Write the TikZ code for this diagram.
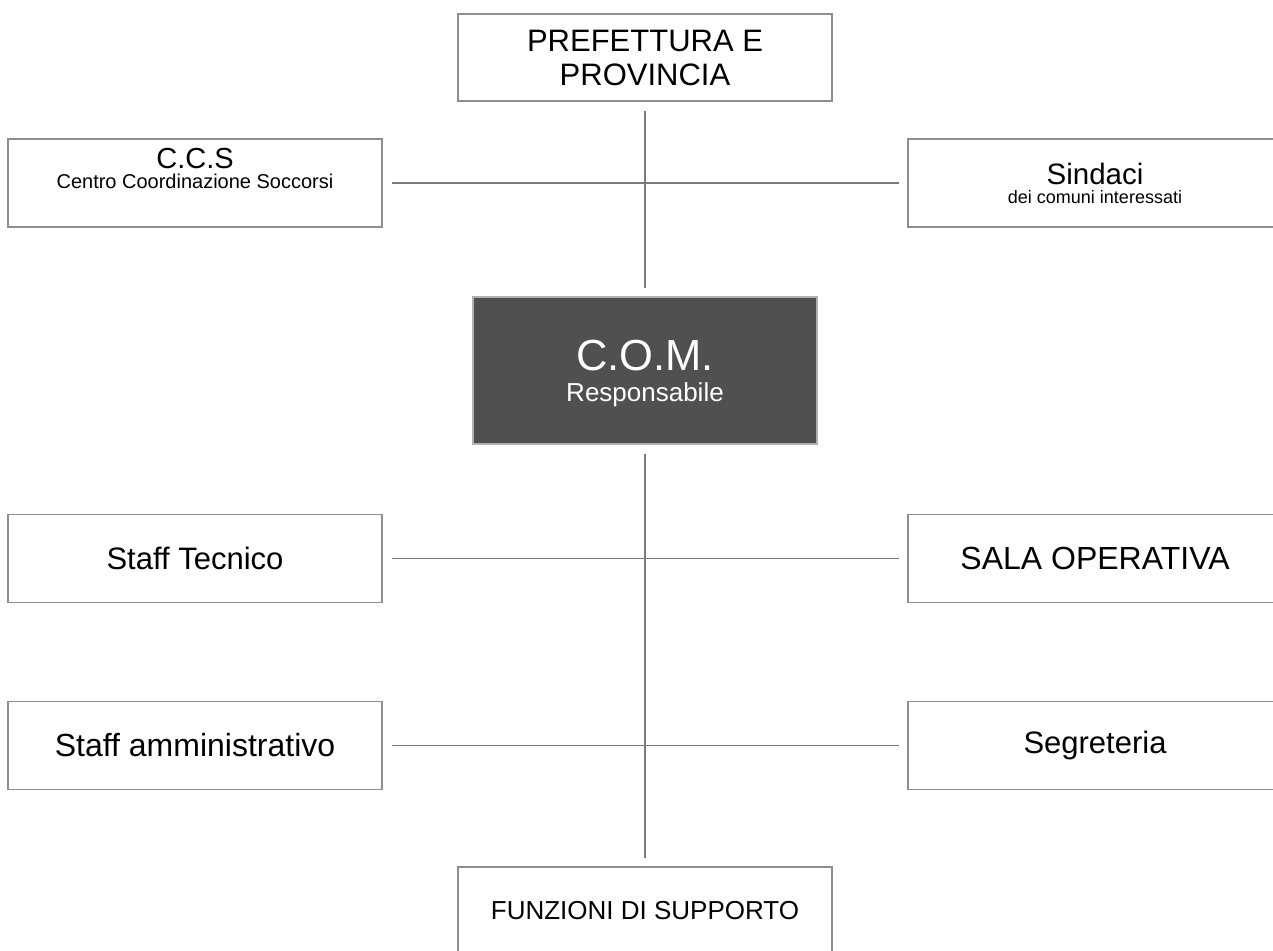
\documentclass[tikz,border=0pt]{standalone}
\usepackage{fontspec}
\setmainfont{Liberation Sans}
\definecolor{boxgray}{HTML}{8E8E8E}
\definecolor{linegray}{HTML}{7A7A7A}
\definecolor{comgray}{HTML}{505050}
\definecolor{comborder}{HTML}{B0B0B0}
\begin{document}
\begin{tikzpicture}[x=1pt,y=-1pt,
  box/.style={draw=boxgray, line width=1.2pt, minimum width=374pt, minimum height=88pt,
    inner sep=0pt, align=center, text=black, fill=white},
  conn/.style={draw=linegray, line width=1.2pt, shorten <=9pt, shorten >=8pt}]
\useasboundingbox (0,0) rectangle (1273,950);
\clip (0,0) rectangle (1273,950);
\fill[white] (0,0) rectangle (1273,950);

\node[box, minimum height=87pt, font=\fontsize{31}{34}\selectfont] (pref) at (645,57.5) {PREFETTURA E\\PROVINCIA};

\node[box] (ccs) at (195,183) {};
\node[font=\fontsize{20}{20}\selectfont, align=center, inner sep=0pt] (ccst) at (195,168) {{\fontsize{29}{29}\selectfont C.C.S}\\Centro Coordinazione Soccorsi};

\node[box, font=\fontsize{18}{19}\selectfont] (sind) at (1095,183) {{\fontsize{29.5}{29.5}\selectfont Sindaci}\\dei comuni interessati};

\node[box, fill=comgray, draw=comborder, minimum width=344pt, minimum height=147pt, text=white,
  font=\fontsize{26}{31}\selectfont] (com) at (645,370.5) {{\fontsize{43.5}{43.5}\selectfont C.O.M.}\\\raisebox{0pt}[\height][0pt]{Responsabile}};

\node[box, font=\fontsize{31}{34}\selectfont] (stec) at (195,558.5) {Staff Tecnico};
\node[box, font=\fontsize{32}{34}\selectfont] (sala) at (1095,558.5) {SALA OPERATIVA};
\node[box, font=\fontsize{32}{34}\selectfont] (samm) at (195,745.5) {Staff amministrativo};
\node[box, font=\fontsize{31}{34}\selectfont] (segr) at (1095,745.5) {Segreteria};
\node[box, font=\fontsize{26}{30}\selectfont] (funz) at (645,911) {FUNZIONI DI SUPPORTO};

\draw[conn] (pref.south) -- (com.north);
\draw[conn] (ccs.east) -- (sind.west);
\draw[conn] (com.south) -- (funz.north);
\draw[conn] (stec.east) -- (sala.west);
\draw[conn] (samm.east) -- (segr.west);
\end{tikzpicture}
\end{document}
